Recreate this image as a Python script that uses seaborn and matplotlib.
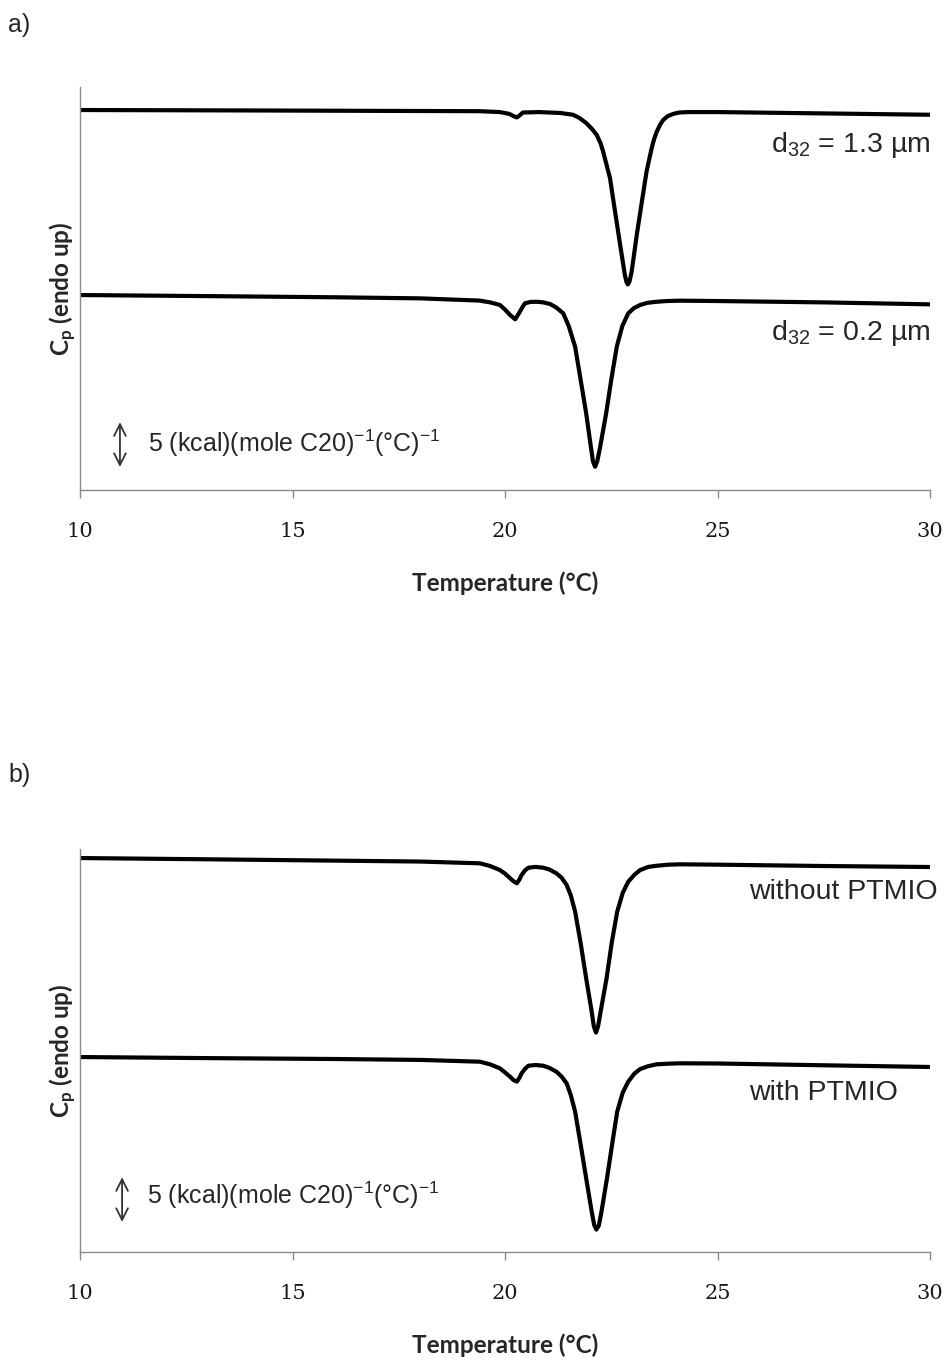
import matplotlib
matplotlib.use("Agg")
import matplotlib.pyplot as plt
import seaborn as sns
import pandas as pd

# ---------------- data ----------------
# Panel a, d32 = 1.3 um
temp_a1 = [10.0, 14.0, 18.0, 19.4, 19.88, 20.1, 20.2, 20.28, 20.35, 20.42, 20.8,
           21.3, 21.6, 21.75, 21.92, 22.05, 22.16, 22.25, 22.31, 22.47, 22.59,
           22.71, 22.82, 22.86, 22.89, 22.93, 22.98, 23.10, 23.22, 23.33, 23.45,
           23.51, 23.57, 23.65, 23.72, 23.83, 23.96, 24.1, 24.3, 25.0, 27.5, 30.0]
cp_a1 = [42.43, 42.38, 42.32, 42.30, 42.20, 42.00, 41.75, 41.60, 41.85, 42.15,
         42.20, 42.10, 41.90, 41.55, 40.94, 40.30, 39.64, 38.70, 37.77, 34.84,
         31.07, 27.36, 24.01, 23.20, 22.95, 23.30, 24.38, 28.47, 32.19, 35.54,
         38.15, 39.20, 40.00, 40.80, 41.31, 41.75, 42.00, 42.15, 42.20, 42.20,
         42.05, 41.90]

# Panel a, d32 = 0.2 um
temp_a2 = [10.0, 13.0, 16.0, 18.0, 19.4, 19.65, 19.88, 20.0, 20.12, 20.24, 20.35,
           20.42, 20.47, 20.6, 20.75, 20.9, 21.06, 21.2, 21.37, 21.5, 21.65, 21.78,
           21.91, 22.02, 22.07, 22.12, 22.17, 22.24, 22.38, 22.5, 22.63, 22.76,
           22.90, 23.03, 23.18, 23.35, 23.57, 23.8, 24.12, 25.0, 27.5, 30.0]
cp_a2 = [21.77, 21.65, 21.52, 21.40, 21.15, 20.95, 20.66, 20.15, 19.54, 19.06,
         19.91, 20.50, 20.85, 21.00, 21.02, 20.95, 20.77, 20.40, 19.73, 18.30,
         16.00, 12.30, 8.56, 4.83, 3.20, 2.60, 3.20, 4.83, 8.56, 12.30, 16.00,
         18.30, 19.73, 20.30, 20.66, 20.90, 21.02, 21.10, 21.14, 21.10, 20.95,
         20.73]

# Panel b, without PTMIO
temp_b1 = [10.0, 13.0, 16.0, 18.0, 19.41, 19.65, 19.88, 20.0, 20.12, 20.2, 20.28,
           20.34, 20.39, 20.47, 20.55, 20.72, 20.90, 21.05, 21.21, 21.33, 21.45,
           21.55, 21.65, 21.78, 21.91, 22.04, 22.09, 22.14, 22.19, 22.25, 22.39,
           22.51, 22.64, 22.77, 22.90, 23.04, 23.18, 23.37, 23.57, 23.85, 24.12,
           25.0, 27.5, 30.0]
cp_b1 = [43.99, 43.85, 43.70, 43.60, 43.40, 43.10, 42.65, 42.25, 41.73, 41.40,
         41.17, 41.60, 42.09, 42.60, 42.91, 43.00, 42.91, 42.70, 42.28, 41.80,
         40.98, 39.80, 38.00, 34.50, 30.56, 26.83, 25.20, 24.50, 25.20, 26.83,
         30.56, 34.50, 38.00, 40.10, 41.35, 42.10, 42.65, 43.00, 43.13, 43.25,
         43.29, 43.25, 43.10, 42.99]

# Panel b, with PTMIO
temp_b2 = [10.0, 13.0, 16.0, 18.0, 19.41, 19.65, 19.88, 20.0, 20.12, 20.2, 20.28,
           20.34, 20.39, 20.47, 20.55, 20.72, 20.90, 21.05, 21.21, 21.33, 21.45,
           21.55, 21.65, 21.78, 21.91, 22.04, 22.10, 22.15, 22.21, 22.27, 22.40,
           22.52, 22.64, 22.77, 22.90, 23.04, 23.18, 23.37, 23.57, 23.85, 24.12,
           25.0, 27.5, 30.0]
cp_b2 = [21.77, 21.65, 21.55, 21.45, 21.25, 20.95, 20.51, 20.05, 19.57, 19.20,
         19.02, 19.45, 19.95, 20.45, 20.80, 20.88, 20.80, 20.55, 20.13, 19.60,
         18.84, 17.50, 15.67, 12.00, 8.23, 4.50, 3.00, 2.50, 3.00, 4.50, 8.23,
         12.00, 15.67, 17.80, 19.02, 19.90, 20.43, 20.75, 20.96, 21.03, 21.07,
         21.05, 20.85, 20.66]

x_ticks = [10, 15, 20, 25, 30]
labels_a = ["d$_{32}$ = 1.3 \u00b5m", "d$_{32}$ = 0.2 \u00b5m"]
labels_b = ["without PTMIO", "with PTMIO"]
scale_text = "5 (kcal)(mole C20)$^{-1}$(\u00b0C)$^{-1}$"
scale_bar = 5.0
panel_tags = ["a)", "b)"]
x_label = "Temperature (\u00b0C)"
y_label = "C$_{p}$ (endo up)"

# ---------------- figure ----------------
sns.set_theme(style="white")
plt.rcParams["font.family"] = ["Liberation Sans", "DejaVu Sans"]
plt.rcParams["mathtext.default"] = "regular"

fig = plt.figure(figsize=(9.47, 13.62), dpi=100)
W, H = 947, 1362
ax_a = fig.add_axes([80 / W, (H - 490) / H, 850 / W, 403 / H])
ax_b = fig.add_axes([80 / W, (H - 1252) / H, 850 / W, 403 / H])

df_a = pd.concat([
    pd.DataFrame({"T": temp_a1, "Cp": cp_a1, "s": "a1"}),
    pd.DataFrame({"T": temp_a2, "Cp": cp_a2, "s": "a2"}),
])
df_b = pd.concat([
    pd.DataFrame({"T": temp_b1, "Cp": cp_b1, "s": "b1"}),
    pd.DataFrame({"T": temp_b2, "Cp": cp_b2, "s": "b2"}),
])

for ax, df in [(ax_a, df_a), (ax_b, df_b)]:
    sns.lineplot(data=df, x="T", y="Cp", units="s", estimator=None, sort=False,
                 color="black", lw=3.0, ax=ax, legend=False)
    for ln in ax.lines:
        ln.set_solid_joinstyle("round")
        ln.set_solid_capstyle("round")
    ax.set_xlim(10, 30)
    ax.set_ylim(0, 45)
    ax.set_xticks(x_ticks)
    ax.set_xticklabels([str(t) for t in x_ticks], family="DejaVu Serif", fontsize=15)
    ax.set_yticks([])
    for side in ["top", "right"]:
        ax.spines[side].set_visible(False)
    for side in ["left", "bottom"]:
        ax.spines[side].set_color("#8a8a8a")
        ax.spines[side].set_linewidth(1.0)
    ax.tick_params(axis="x", direction="out", length=6, width=1.0, color="#8a8a8a",
                   pad=17, bottom=True, labelcolor="#1a1a1a")
    ax.set_xlabel(x_label, family="Lato", fontweight="bold", fontsize=17.5, labelpad=22)
    ax.set_ylabel(y_label, family="Lato", fontweight="bold", fontsize=17.5, labelpad=1)

# scale bars
for ax, x0, y0, tx, ty in [(ax_a, 10.94, 2.57, 11.6, 5.25), (ax_b, 10.99, 3.35, 11.58, 6.36)]:
    ax.annotate("", xy=(x0, y0 + scale_bar), xytext=(x0, y0),
                arrowprops=dict(arrowstyle="<->,head_length=0.6,head_width=0.3",
                                color="#333333", lw=1.3,
                                mutation_scale=14, shrinkA=0, shrinkB=0))
    ax.text(tx, ty, scale_text, fontsize=18, va="center", ha="left")

# curve labels
ax_a.text(1.0, 0.856, labels_a[0], transform=ax_a.transAxes, ha="right", va="center", fontsize=20.5)
ax_a.text(1.0, 0.39, labels_a[1], transform=ax_a.transAxes, ha="right", va="center", fontsize=20.5)
ax_b.text(0.787, 0.893, labels_b[0], transform=ax_b.transAxes, ha="left", va="center", fontsize=20.5)
ax_b.text(0.787, 0.395, labels_b[1], transform=ax_b.transAxes, ha="left", va="center", fontsize=20.5)

fig.text(8 / W, 1 - 25 / H, panel_tags[0], fontsize=18, va="center", ha="left")
fig.text(8 / W, 1 - 775 / H, panel_tags[1], fontsize=18, va="center", ha="left")

fig.savefig("out.png", dpi=100)
